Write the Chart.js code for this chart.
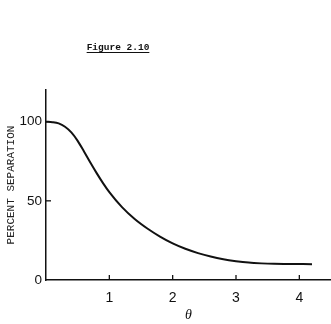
<!DOCTYPE html>
<html>
<head>
<meta charset="utf-8">
<script src="https://cdn.jsdelivr.net/npm/chart.js@4"></script>
<style>
html,body{margin:0;padding:0;background:#fff;}
#wrap{width:331px;height:324px;position:relative;}
</style>
</head>
<body>
<div id="wrap"><canvas id="c" width="331" height="324"></canvas></div>
<script>
const chartTitle = "Figure 2.10";
const xTitle = "θ";
const yTitle = "PERCENT SEPARATION";
const thetaValues = [0, 0.1, 0.2, 0.3, 0.4, 0.5, 0.6, 0.7, 0.8, 0.9, 1.0, 1.2, 1.4, 1.6, 1.8, 2.0, 2.2, 2.4, 2.6, 2.8, 3.0, 3.2, 3.4, 3.6, 3.8, 4.2];
const separationValues = [100, 99.7, 98.9, 96.8, 93.2, 87.9, 81.2, 74.2, 67.5, 61.2, 55.5, 46, 38.5, 32.5, 27.4, 23.1, 19.7, 17, 14.8, 13.1, 11.9, 11, 10.5, 10.2, 10.1, 10];
const xTickValues = [1, 2, 3, 4];
const yTickValues = [0, 50, 100];

const points = thetaValues.map((t, i) => ({x: t, y: separationValues[i]}));

const decor = {
  id: 'decor',
  afterDraw(chart) {
    const ctx = chart.ctx;
    const xs = chart.scales.x, ys = chart.scales.y;
    ctx.save();
    ctx.strokeStyle = '#111';
    ctx.lineWidth = 1.3;
    xTickValues.forEach(v => {
      const px = xs.getPixelForValue(v);
      ctx.beginPath();
      ctx.moveTo(px, ys.bottom);
      ctx.lineTo(px, ys.bottom - 5);
      ctx.stroke();
    });
    yTickValues.forEach(v => {
      if (v === 0) return;
      const py = ys.getPixelForValue(v);
      ctx.beginPath();
      ctx.moveTo(xs.left, py);
      ctx.lineTo(xs.left + 5, py);
      ctx.stroke();
    });
    ctx.fillStyle = '#111';
    ctx.font = 'bold 9.5px "Liberation Mono", "DejaVu Sans Mono", monospace';
    ctx.textAlign = 'center';
    ctx.textBaseline = 'alphabetic';
    const tx = 118, ty = 50;
    ctx.fillText(chartTitle, tx, ty);
    const w = ctx.measureText(chartTitle).width;
    ctx.lineWidth = 1;
    ctx.beginPath();
    ctx.moveTo(tx - w / 2, ty + 2.5);
    ctx.lineTo(tx + w / 2, ty + 2.5);
    ctx.stroke();
    ctx.restore();
  }
};

new Chart(document.getElementById('c'), {
  type: 'line',
  data: {
    datasets: [{
      data: points,
      borderColor: '#111',
      borderWidth: 2,
      pointRadius: 0,
      cubicInterpolationMode: 'monotone',
      fill: false
    }]
  },
  options: {
    responsive: false,
    animation: false,
    events: [],
    layout: {padding: {top: 90, right: 0, left: 0, bottom: 0}},
    plugins: {legend: {display: false}, tooltip: {enabled: false}, title: {display: false}},
    scales: {
      x: {
        type: 'linear',
        min: 0,
        max: 4.5,
        afterFit(s) { s.height = 44; },
        border: {display: true, color: '#111', width: 1.5},
        grid: {display: false, drawTicks: false},
        ticks: {
          stepSize: 1,
          includeBounds: false,
          padding: 10,
          color: '#111',
          font: {family: '"Liberation Sans Narrow", "Liberation Sans", Arial, sans-serif', size: 14},
          callback: (v) => xTickValues.includes(v) ? String(v) : ''
        },
        title: {
          display: true,
          text: xTitle,
          color: '#111',
          font: {family: '"Liberation Serif", "DejaVu Serif", serif', size: 14, style: 'italic'},
          padding: {top: 0, bottom: 0}
        }
      },
      y: {
        type: 'linear',
        min: 0,
        max: 120,
        afterFit(s) { s.width = 46; },
        border: {display: true, color: '#111', width: 1.5},
        grid: {display: false, drawTicks: false},
        ticks: {
          stepSize: 50,
          includeBounds: false,
          padding: 4,
          color: '#111',
          font: {family: '"Liberation Sans Narrow", "Liberation Sans", Arial, sans-serif', size: 13.5},
          callback: (v) => yTickValues.includes(v) ? String(v) : ''
        },
        title: {
          display: true,
          text: yTitle,
          color: '#222',
          font: {family: '"Liberation Mono", "DejaVu Sans Mono", monospace', size: 11},
          padding: {top: 4, bottom: 0}
        }
      }
    }
  },
  plugins: [decor]
});
</script>
</body>
</html>
